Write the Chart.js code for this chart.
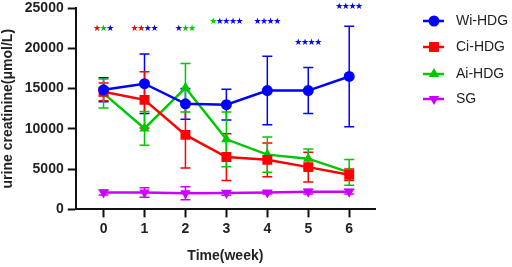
<!DOCTYPE html>
<html>
<head>
<meta charset="utf-8">
<script src="https://cdn.jsdelivr.net/npm/chart.js@4/dist/chart.umd.min.js"></script>
<style>
  html, body { margin: 0; padding: 0; background: #fff; }
</style>
</head>
<body>
<canvas id="chart" width="512" height="267"></canvas>
<script>
// weeks on the x axis
var weeks = [0, 1, 2, 3, 4, 5, 6];
var yTicks = [0, 5000, 10000, 15000, 20000, 25000];

// group means and error (SD)
var wiMean = [14850, 15600, 13100, 13000, 14750, 14750, 16500];
var wiErr  = [1500, 3700, 1900, 1900, 4250, 2850, 6250];
var ciMean = [14600, 13600, 9250, 6500, 6150, 5250, 4300];
var ciErr  = [1100, 3500, 4100, 2900, 2100, 1850, 700];
var aiMean = [14400, 10050, 15100, 8700, 6800, 6300, 4600];
var aiErr  = [1800, 2100, 3000, 3400, 2200, 1200, 1600];
var sgMean = [2100, 2100, 2000, 2050, 2100, 2200, 2200];
var sgErr  = [300, 600, 800, 300, 200, 300, 300];

// significance marks above each week
var starY = [22400, 22400, 22400, 23250, 23250, 20750, 25150];
var starMarks = [
  [["★", "#ff0000"], ["★", "#00c800"], ["★", "#0000ff"]],
  [["★★", "#ff0000"], ["★★", "#0000ff"]],
  [["★", "#0000ff"], ["★★", "#00c800"]],
  [["★", "#00c800"], ["★★★★", "#0000ff"]],
  [["★★★★", "#0000ff"]],
  [["★★★★", "#0000ff"]],
  [["★★★★", "#0000ff"]]
];

function pts(arr) {
  return arr.map(function (v, i) { return { x: weeks[i], y: v }; });
}

function series(label, mean, err, color, style, radius, rotation) {
  return {
    label: label,
    data: pts(mean),
    errors: err,
    borderColor: color,
    backgroundColor: color,
    borderWidth: 2.5,
    pointStyle: style,
    pointRadius: radius,
    pointHoverRadius: radius,
    pointRotation: rotation || 0,
    pointBorderWidth: 0,
    tension: 0
  };
}

var errorBars = {
  id: "errorBars",
  beforeDatasetsDraw: function (chart) {
    var ctx = chart.ctx;
    var ys = chart.scales.y;
    chart.data.datasets.forEach(function (ds, di) {
      var meta = chart.getDatasetMeta(di);
      ctx.save();
      ctx.strokeStyle = ds.borderColor;
      ctx.lineWidth = 1.5;
      meta.data.forEach(function (p, i) {
        var v = ds.data[i].y, e = ds.errors[i];
        var top = ys.getPixelForValue(v + e), bot = ys.getPixelForValue(v - e);
        ctx.beginPath();
        ctx.moveTo(p.x, top); ctx.lineTo(p.x, bot);
        ctx.moveTo(p.x - 5, top); ctx.lineTo(p.x + 5, top);
        ctx.moveTo(p.x - 5, bot); ctx.lineTo(p.x + 5, bot);
        ctx.stroke();
      });
      ctx.restore();
    });
  }
};

// each star is placed on a fixed step so the groups stay compact
var stars = {
  id: "stars",
  afterDraw: function (chart) {
    var ctx = chart.ctx;
    var xs = chart.scales.x, ys = chart.scales.y;
    var step = 6.6;
    ctx.save();
    ctx.font = "9px 'DejaVu Sans'";
    ctx.textBaseline = "middle";
    ctx.textAlign = "center";
    starMarks.forEach(function (parts, i) {
      var chars = [];
      parts.forEach(function (p) {
        for (var k = 0; k < p[0].length; k++) chars.push(p[1]);
      });
      var x0 = xs.getPixelForValue(weeks[i]) - (chars.length - 1) * step / 2;
      var y = ys.getPixelForValue(starY[i]);
      chars.forEach(function (c, k) {
        ctx.fillStyle = c;
        ctx.fillText("★", x0 + k * step, y);
      });
    });
    ctx.restore();
  }
};

var sideLegend = {
  id: "sideLegend",
  afterDraw: function (chart) {
    var ctx = chart.ctx;
    var rowY = [21, 47, 74, 99];
    chart.data.datasets.forEach(function (ds, i) {
      var y = rowY[i];
      ctx.save();
      ctx.strokeStyle = ds.borderColor;
      ctx.lineWidth = 2.5;
      ctx.beginPath();
      ctx.moveTo(423, y); ctx.lineTo(444, y);
      ctx.stroke();
      ctx.fillStyle = ds.backgroundColor;
      Chart.helpers.drawPoint(ctx, {
        pointStyle: ds.pointStyle, radius: ds.pointRadius,
        rotation: ds.pointRotation, borderWidth: 0
      }, 434, y);
      ctx.fillStyle = "#222";
      ctx.font = "14px 'Liberation Sans', Arial";
      ctx.textBaseline = "middle";
      ctx.textAlign = "left";
      ctx.fillText(ds.label, 456, y);
      ctx.restore();
    });
  }
};

Chart.defaults.font.family = "'Liberation Sans', Arial, sans-serif";
Chart.defaults.color = "#222";

new Chart(document.getElementById("chart").getContext("2d"), {
  type: "line",
  data: {
    datasets: [
      series("Wi-HDG", wiMean, wiErr, "#0000ff", "circle", 5.5),
      series("Ci-HDG", ciMean, ciErr, "#ff0000", "rect", 7),
      series("Ai-HDG", aiMean, aiErr, "#00c800", "triangle", 6),
      series("SG", sgMean, sgErr, "#cc00ff", "triangle", 6, 180)
    ]
  },
  options: {
    responsive: false,
    animation: false,
    layout: { padding: { top: 0, right: 137, bottom: 2, left: 0 } },
    plugins: {
      legend: { display: false },
      tooltip: { enabled: false }
    },
    scales: {
      x: {
        type: "linear",
        min: -0.68,
        max: 6.63,
        afterBuildTicks: function (s) { s.ticks = weeks.map(function (v) { return { value: v }; }); },
        grid: { drawOnChartArea: false, drawTicks: true, tickLength: 8, tickWidth: 2, tickColor: "#111" },
        border: { display: true, color: "#111", width: 2 },
        ticks: { font: { size: 14, weight: "bold" }, color: "#222", padding: 3, maxRotation: 0 },
        title: { display: true, text: "Time(week)", font: { size: 14, weight: "bold" }, color: "#222", padding: { top: 8, bottom: 0 } }
      },
      y: {
        min: 0,
        max: 25000,
        afterBuildTicks: function (s) { s.ticks = yTicks.map(function (v) { return { value: v }; }); },
        afterFit: function (s) { s.paddingTop = 8; },
        grid: { drawOnChartArea: false, drawTicks: true, tickLength: 8, tickWidth: 2, tickColor: "#111" },
        border: { display: true, color: "#111", width: 2 },
        ticks: { font: { size: 14, weight: "bold" }, color: "#222", padding: 4, callback: function (v) { return String(v); } },
        title: { display: true, text: "urine creatinine(μmol/L)", font: { size: 14, weight: "bold" }, color: "#222", padding: { top: 0, bottom: 4 } }
      }
    }
  },
  plugins: [errorBars, stars, sideLegend]
});
</script>
</body>
</html>
